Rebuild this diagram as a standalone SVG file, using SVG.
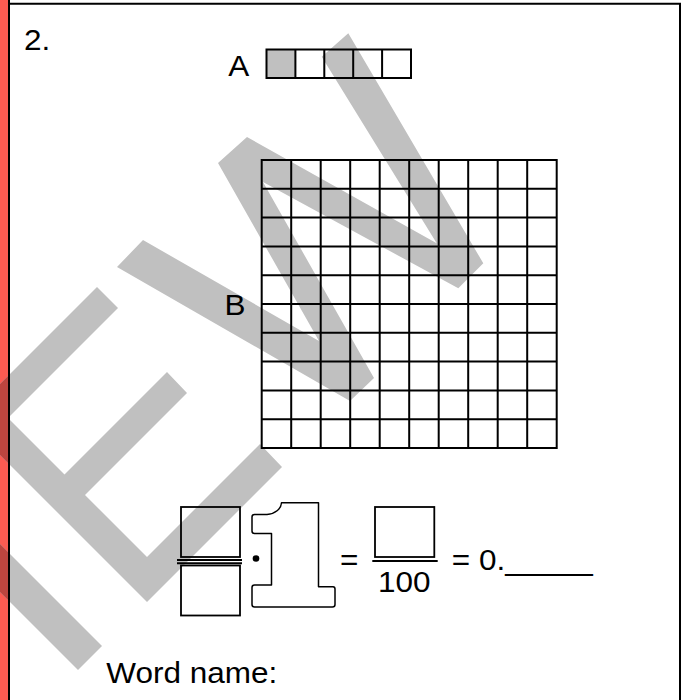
<svg xmlns="http://www.w3.org/2000/svg" width="681" height="700" viewBox="0 0 681 700">
<style>
.t{font-family:"Liberation Sans",Arial,sans-serif;font-size:30px;fill:#000}
.ln{fill:none;stroke:#000;stroke-width:2}
.bx{fill:none;stroke:#000;stroke-width:1.8}
</style>
<defs>
<g id="wm-shapes">
<polygon points="117,267 143,240 319,341 218,163 247,137 436.7,243.3 321.7,56.7 348.3,33.3 483.3,263.3 458.3,288.3 263,182 374,378 350,401"/>
<polygon points="-20,435 147,602 282,467 260,444 147,557 85,495 187,393 167,372 64.5,474.5 8,418 118,308 97,287 -20,404"/>
<polygon points="-20,524 102,646 78,670 -20,572"/>
</g>
<clipPath id="margin-clip"><rect x="0" y="0" width="8" height="700"/></clipPath>
</defs>
<rect x="0" y="0" width="681" height="700" fill="#fff"/>
<rect id="margin" x="0" y="0" width="8" height="700" fill="#fb5b52"/>
<g id="watermark">
<use href="#wm-shapes" fill="#c0c0c0"/>
<use href="#wm-shapes" fill="#bc453f" clip-path="url(#margin-clip)"/>
</g>
<g id="frame" class="ln">
<path d="M9,0 V700 M8,3.7 H681 M680,3 V700"/>
</g>
<g id="label-2"><text class="t" transform="translate(24,50) scale(1.05,1)">2.</text></g>
<g id="row-A">
<text class="t" transform="translate(228.3,75.5) scale(1.05,1)">A</text>
<rect x="266.5" y="49.5" width="28.9" height="28.5" fill="#c0c0c0"/>
<path class="ln" d="M266.5,49.5 H411 V78 H266.5 Z M295.4,49.5 V78 M324.3,49.5 V78 M353.2,49.5 V78 M382.1,49.5 V78"/>
</g>
<g id="grid-B">
<text class="t" transform="translate(224.5,314.5) scale(1.05,1)">B</text>
<path class="ln" stroke-linecap="square" d="M261.7,160 V448 M291.2,160 V448 M320.7,160 V448 M350.2,160 V448 M379.7,160 V448 M409.2,160 V448 M438.7,160 V448 M468.2,160 V448 M497.7,160 V448 M527.2,160 V448 M556.7,160 V448 M261.7,160 H556.7 M261.7,188.8 H556.7 M261.7,217.6 H556.7 M261.7,246.4 H556.7 M261.7,275.2 H556.7 M261.7,304 H556.7 M261.7,332.8 H556.7 M261.7,361.6 H556.7 M261.7,390.4 H556.7 M261.7,419.2 H556.7 M261.7,448 H556.7"/>
</g>
<g id="fraction-left">
<rect class="bx" x="181" y="507" width="59" height="50"/>
<path class="ln" stroke-width="1.6" d="M177,560 H242 M177,563.2 H242"/>
<rect class="bx" x="181" y="565.5" width="59" height="50"/>
</g>
<g id="times-dot"><circle cx="256" cy="558.5" r="3.3" fill="#000"/></g>
<g id="one-whole">
<path fill="none" stroke="#000" stroke-width="1.5" stroke-linejoin="round" d="M281.5,502.7 L318.5,502.7 L318.5,586.7 L333,586.7 Q335,586.7 335,589 L335,604.5 Q335,607 332.5,607 L254.5,607 Q252,607 252,604.5 L252,587.5 Q252,585 254.5,585 L271.5,585 L271.5,533.5 L254.5,533.5 Q252,533.5 252,531 L252,517 Q252,514.5 254.5,514.5 L267,514.5 C275,514 281,509 281.5,502.7 Z"/>
</g>
<g id="equals-1"><text class="t" transform="translate(340,570) scale(1.05,1)">=</text></g>
<g id="fraction-right">
<rect class="bx" x="375" y="507" width="59.3" height="50"/>
<path class="ln" d="M372.3,561 H437.7"/>
<text class="t" text-anchor="middle" transform="translate(404.3,591.7) scale(1.05,1)">100</text>
</g>
<g id="equals-2"><text class="t" transform="translate(451.8,570) scale(1.05,1)">= 0._____</text></g>
<g id="word-name"><text class="t" transform="translate(106.3,683.3) scale(1.05,1)">Word name:</text></g>
<g id="connectors"></g>
</svg>
